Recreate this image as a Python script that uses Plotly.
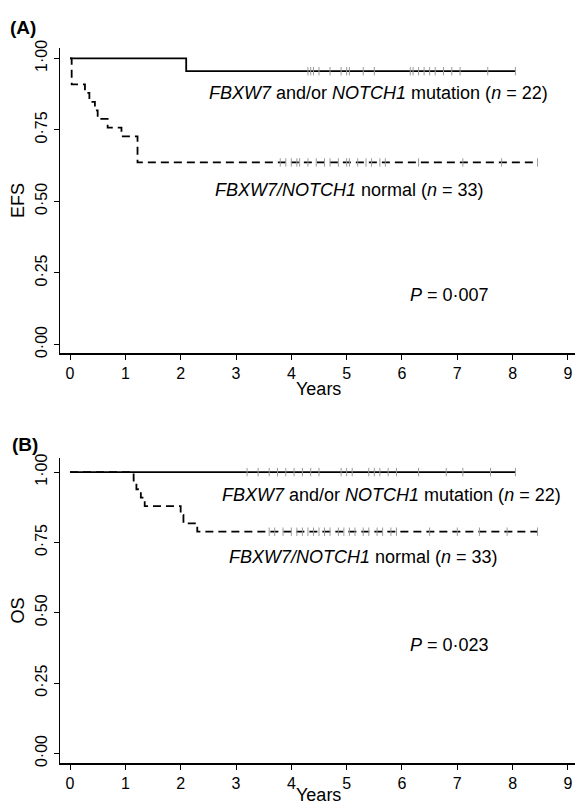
import plotly.graph_objects as go
import numpy as np

# ---------------- data ----------------
years_ticks = list(range(0, 10))
y_tickvals = [0, 0.25, 0.5, 0.75, 1.0]
y_ticktext = ["0·00", "0·25", "0·50", "0·75", "1·00"]

# Panel A (EFS)
efs_mut_t = [0, 2.1, 8.05]
efs_mut_s = [1.0, 0.955, 0.955]
efs_mut_cens = [4.3, 4.35, 4.4, 4.5, 4.7, 4.9, 5.0, 5.05, 5.3, 5.5, 6.15, 6.2,
                6.3, 6.4, 6.5, 6.6, 6.75, 6.9, 7.05, 7.55, 8.05]
efs_norm_t = [0, 0.03, 0.27, 0.35, 0.45, 0.5, 0.68, 0.93, 1.22, 8.45]
efs_norm_s = [1.0, 0.909, 0.879, 0.848, 0.818, 0.788, 0.758, 0.727, 0.636, 0.636]
efs_norm_cens = [3.8, 3.9, 4.0, 4.1, 4.15, 4.3, 4.45, 4.6, 4.7, 4.85, 5.0, 5.05,
                 5.2, 5.35, 5.45, 5.6, 5.7, 6.3, 7.1, 7.8, 8.45]

# Panel B (OS)
os_mut_t = [0, 8.05]
os_mut_s = [1.0, 1.0]
os_mut_cens = [3.2, 3.4, 3.6, 3.75, 3.9, 4.05, 4.2, 4.35, 4.5, 4.9, 5.0, 5.1,
               5.4, 5.5, 5.6, 5.75, 5.9, 6.3, 6.8, 7.1, 7.6, 8.05]
os_norm_t = [0, 1.15, 1.2, 1.28, 1.35, 2.0, 2.05, 2.3, 8.45]
os_norm_s = [1.0, 0.97, 0.939, 0.909, 0.879, 0.848, 0.818, 0.788, 0.788]
os_norm_cens = [3.6, 3.7, 3.85, 4.0, 4.1, 4.2, 4.3, 4.4, 4.5, 4.6, 4.7, 4.85,
                4.95, 5.05, 5.15, 5.3, 5.4, 5.55, 5.65, 5.8, 5.9, 6.5, 7.0,
                7.4, 7.9, 8.45]

lbl_mut = "<i>FBXW7</i> and/or <i>NOTCH1</i> mutation (<i>n</i> = 22)"
lbl_norm = "<i>FBXW7/NOTCH1</i> normal (<i>n</i> = 33)"
p_a = "<i>P</i> = 0·007"
p_b = "<i>P</i> = 0·023"
x_title = "Years"

# ---------------- figure ----------------
W, H = 577, 804
ML, MR, MT, MB = 60, 2, 48, 41
FONT = "Liberation Sans, Arial, sans-serif"


def step_at(ts, ss, t):
    idx = np.searchsorted(np.array(ts), t, side="right") - 1
    return ss[max(idx, 0)]


fig = go.Figure()


def add_curve(t, s, cens, dash, xa, ya):
    fig.add_trace(go.Scatter(
        x=t, y=s, mode="lines", line_shape="hv",
        line=dict(color="black", width=1.8, dash=dash),
        xaxis=xa, yaxis=ya, showlegend=False, hoverinfo="skip"))
    fig.add_trace(go.Scatter(
        x=cens, y=[step_at(t, s, c) for c in cens], mode="markers",
        marker=dict(symbol="line-ns-open", size=6, color="#9a9a9a",
                    line=dict(color="#9a9a9a", width=1)),
        xaxis=xa, yaxis=ya, showlegend=False, hoverinfo="skip"))


add_curve(efs_mut_t, efs_mut_s, efs_mut_cens, "solid", "x", "y")
add_curve(efs_norm_t, efs_norm_s, efs_norm_cens, "8px,5px", "x", "y")
add_curve(os_mut_t, os_mut_s, os_mut_cens, "solid", "x2", "y2")
add_curve(os_norm_t, os_norm_s, os_norm_cens, "8px,5px", "x2", "y2")

ph = H - MT - MB


def ydom(top_px, bot_px):
    return [(H - MB - bot_px) / ph, (H - MB - top_px) / ph]


def py2paper(py):
    return (H - MB - py) / ph


axis_common = dict(showline=True, linecolor="black", linewidth=1.5,
                   ticks="outside", ticklen=5, tickwidth=1, tickcolor="black",
                   showgrid=False, zeroline=False,
                   tickfont=dict(family=FONT, size=16, color="black"))

xr = [-0.181, 9.127]
fig.update_layout(
    width=W, height=H,
    margin=dict(l=ML, r=MR, t=MT, b=MB),
    plot_bgcolor="white", paper_bgcolor="white",
    font=dict(family=FONT, color="black"),
    xaxis=dict(range=xr, tickvals=years_ticks, domain=[0, 1], anchor="y",
               **axis_common),
    yaxis=dict(range=[-0.030, 1.036], tickvals=y_tickvals, ticktext=y_ticktext,
               tickangle=-90, domain=ydom(48, 353), anchor="x",
               title=dict(text="EFS", font=dict(size=18), standoff=4),
               **axis_common),
    xaxis2=dict(range=xr, tickvals=years_ticks, domain=[0, 1], anchor="y2",
                **axis_common),
    yaxis2=dict(range=[-0.034, 1.050], tickvals=y_tickvals, ticktext=y_ticktext,
                tickangle=-90, domain=ydom(458, 763), anchor="x2",
                title=dict(text="OS", font=dict(size=18), standoff=4),
                **axis_common),
)


def ann(text, px, py, size=18, bold=False):
    fig.add_annotation(
        text=f"<b>{text}</b>" if bold else text,
        xref="paper", yref="paper",
        x=(px - ML) / (W - ML - MR), y=py2paper(py),
        xanchor="left", yanchor="middle", showarrow=False,
        font=dict(family=FONT, size=size, color="black"))


ann("(A)", 8, 27, size=19, bold=True)
ann("(B)", 10, 444, size=19, bold=True)
ann(lbl_mut, 207, 93)
ann(lbl_norm, 213, 190)
ann(p_a, 408, 295)
ann(lbl_mut, 220, 495)
ann(lbl_norm, 227, 557)
ann(p_b, 408, 645)

# x-axis titles placed just under the tick labels
for xa, py in (("x", 389), ("x2", 795)):
    fig.add_annotation(
        text=x_title, xref=xa, yref="paper", x=4.5, y=py2paper(py),
        xanchor="center", yanchor="middle", showarrow=False,
        font=dict(family=FONT, size=18, color="black"))

# remove the default 8px page margin so the figure fills the window exactly
fig.write_html("out.html",
               config={"displayModeBar": False, "staticPlot": True},
               post_script="document.body.style.margin='0';")
